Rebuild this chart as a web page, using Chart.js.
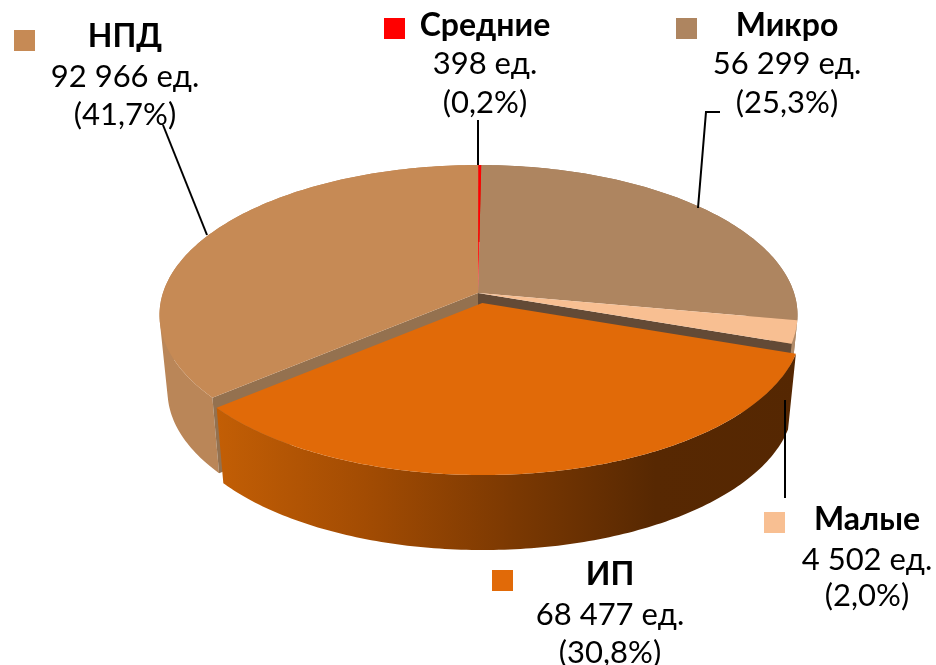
<!DOCTYPE html>
<html>
<head>
<meta charset="utf-8">
<style>
  html, body { margin: 0; padding: 0; background: #fff; }
  canvas { display: block; }
</style>
<script src="https://cdn.jsdelivr.net/npm/chart.js@4"></script>
</head>
<body>
<canvas id="myChart" width="936" height="665"></canvas>
<script>
const categories = ["Микро", "Малые", "ИП", "НПД", "Средние"];
const units = [56299, 4502, 68477, 92966, 398];
const percents = [25.3, 2.0, 30.8, 41.7, 0.2];
const colors = ["#AE8560", "#F8BF92", "#E16A08", "#C68A55", "#FF0000"];
const offsets = [0, 0, 22, 0, 0];

// the reference is a 3D pie whose perspective stretches the angles unevenly,
// so data angles go through this table before landing on the ellipse
const angleFrom = [0, 91, 98.3, 209, 360];
const angleTo = [0.5, 92, 101, 236.5, 360.5];

const top3d = { x: 478.5, y: 315, rx: 319, ry: 150 };
const bottom3d = { x: 478.5, y: 391, rx: 311, ry: 149 };
const apex = { x: 478, y: 293 };
const wallColors = { "Малые": "#B08A68", "НПД": "#BA8658", "Микро": "#9A7655", "Средние": "#B03010" };
const cutColors = { "Малые": "#634A36", "НПД": "#94714F" };

// label boxes: text centre, baselines, legend square, leader line
const labelSpots = {
  "НПД": { x: 125, ys: [47, 87, 125], box: [14, 30], line: [[163, 125], [207, 235]] },
  "Средние": { x: 485, ys: [36, 74, 113], box: [384, 18], line: [[478, 120], [478, 165]] },
  "Микро": { x: 787, ys: [36, 74, 113], box: [676, 18], line: [[720, 112], [706, 112], [698, 208]] },
  "Малые": { x: 867, ys: [530, 570, 606], box: [764, 512], line: [[785, 400], [785, 498]] },
  "ИП": { x: 610, ys: [585, 625, 663], box: [492, 570], line: null }
};

function warp(deg) {
  for (let i = 1; i < angleFrom.length; i++) {
    if (deg <= angleFrom[i]) {
      let t = (deg - angleFrom[i - 1]) / (angleFrom[i] - angleFrom[i - 1]);
      return angleTo[i - 1] + t * (angleTo[i] - angleTo[i - 1]);
    }
  }
  return angleTo[angleTo.length - 1];
}

function onEllipse(e, deg) {
  let a = deg * Math.PI / 180;
  return { x: e.x + e.rx * Math.sin(a), y: e.y - e.ry * Math.cos(a) };
}

function arcPoints(e, from, to) {
  let pts = [];
  for (let d = from; d < to; d += 1) pts.push(onEllipse(e, d));
  pts.push(onEllipse(e, to));
  return pts;
}

function fillPoly(ctx, pts, fill) {
  ctx.beginPath();
  pts.forEach((p, i) => i ? ctx.lineTo(p.x, p.y) : ctx.moveTo(p.x, p.y));
  ctx.closePath();
  ctx.fillStyle = fill;
  ctx.fill();
}

function signedArea(q) {
  let sum = 0;
  q.forEach((p, i) => {
    let n = q[(i + 1) % q.length];
    sum += p.x * n.y - n.x * p.y;
  });
  return sum;
}

function drawSlice3d(ctx, el, name, part) {
  let from = warp((el.startAngle + Math.PI / 2) * 180 / Math.PI);
  let to = warp((el.endAngle + Math.PI / 2) * 180 / Math.PI);
  let mid = (from + to) / 2 * Math.PI / 180;
  let share = (el.options.offset || 0) / el.outerRadius;
  let dx = Math.sin(mid) * share * top3d.rx;
  let dy = -Math.cos(mid) * share * top3d.ry;

  ctx.save();
  ctx.translate(dx, dy);
  let upper = arcPoints(top3d, from, to);
  let lower = arcPoints(bottom3d, from, to);
  let downApex = { x: apex.x, y: apex.y + bottom3d.y - top3d.y };

  if (part === "walls" || part === "all") {
    let wall = wallColors[name];
    if (name === "ИП") {
      wall = ctx.createLinearGradient(214, 0, 797, 0);
      wall.addColorStop(0, "#C25E05");
      wall.addColorStop(0.25, "#A34C03");
      wall.addColorStop(0.5, "#7C3902");
      wall.addColorStop(0.75, "#572802");
      wall.addColorStop(1, "#552702");
    }
    // one quad per degree in a single path, all wound the same way, so the
    // silhouette between both rims is filled and no seams show between quads
    ctx.beginPath();
    for (let i = 1; i < upper.length; i++) {
      let q = [upper[i - 1], upper[i], lower[i], lower[i - 1]];
      if (signedArea(q) < 0) q.reverse();
      q.forEach((p, j) => j ? ctx.lineTo(p.x, p.y) : ctx.moveTo(p.x, p.y));
      ctx.closePath();
    }
    ctx.fillStyle = wall;
    ctx.fill();
    if (cutColors[name]) {
      let edge = name === "НПД" ? 0 : upper.length - 1;
      fillPoly(ctx, [apex, upper[edge], lower[edge], downApex], cutColors[name]);
    }
  }
  if (part === "face" || part === "all") {
    fillPoly(ctx, [apex].concat(upper), el.options.backgroundColor);
  }
  ctx.restore();
}

const pie3d = {
  id: "pie3d",
  beforeDatasetDraw() {
    return false; // the flat arcs are replaced by the extruded ones below
  },
  afterDatasetsDraw(chart) {
    const ctx = chart.ctx;
    const arcs = chart.getDatasetMeta(0).data;
    const standing = arcs.map((el, i) => i).filter(i => !offsets[i]);
    standing.forEach(i => drawSlice3d(ctx, arcs[i], categories[i], "walls"));
    standing.forEach(i => drawSlice3d(ctx, arcs[i], categories[i], "face"));
    arcs.forEach((el, i) => {
      if (offsets[i]) drawSlice3d(ctx, el, categories[i], "all");
    });
  },
  afterDraw(chart) {
    const ctx = chart.ctx;
    ctx.save();
    ctx.textAlign = "center";
    categories.forEach((name, i) => {
      const spot = labelSpots[name];
      if (spot.line) {
        ctx.beginPath();
        spot.line.forEach((p, j) => j ? ctx.lineTo(p[0], p[1]) : ctx.moveTo(p[0], p[1]));
        ctx.strokeStyle = "#000";
        ctx.lineWidth = 2;
        ctx.stroke();
      }
      ctx.fillStyle = colors[i];
      ctx.fillRect(spot.box[0], spot.box[1], 21, 21);
      ctx.fillStyle = "#000";
      ctx.font = "bold 32px Lato, 'Open Sans', sans-serif";
      ctx.fillText(name, spot.x, spot.ys[0]);
      ctx.font = "31px Lato, 'Open Sans', sans-serif";
      let amount = String(units[i]).replace(/\B(?=(\d{3})+$)/g, " ");
      ctx.fillText(amount + " ед.", spot.x, spot.ys[1]);
      ctx.fillText("(" + percents[i].toFixed(1).replace(".", ",") + "%)", spot.x, spot.ys[2]);
    });
    ctx.restore();
  }
};

const ctx = document.getElementById('myChart');
let myChart = new Chart(ctx, {
  type: 'pie',
  data: {
    labels: categories,
    datasets: [{
      data: units,
      backgroundColor: colors,
      offset: offsets,
      borderWidth: 0
    }]
  },
  options: {
    responsive: false,
    animation: false,
    plugins: {
      legend: { display: false },
      tooltip: { enabled: false }
    }
  },
  plugins: [pie3d]
});
</script>
</body>
</html>
